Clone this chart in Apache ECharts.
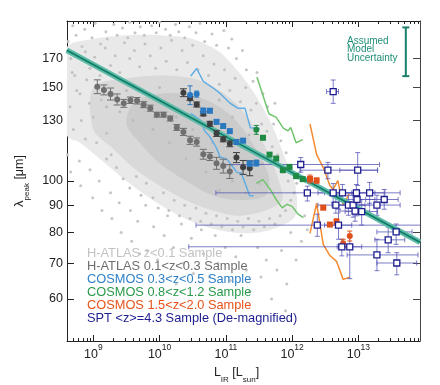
<!DOCTYPE html>
<html><head><meta charset="utf-8">
<script src="https://cdn.jsdelivr.net/npm/echarts@6/dist/echarts.min.js"></script>
<style>html,body{margin:0;padding:0;background:#fff}#c{width:440px;height:385px}</style>
</head><body><div id="c"></div>
<script>
const L = Math.log10;

// ---- axes (x = log10 L_IR [L_sun], y = lambda_peak [um], log) ----
const xRange = [8.603, 13.93];
const yRange = [50, 200];
const xMajorExp = [9, 10, 11, 12, 13];
const xMinorMult = [2, 3, 4, 5, 6, 7, 8, 9];
const xDecades = [8, 9, 10, 11, 12, 13];
const yTickLabels = [60, 70, 80, 90, 100, 130, 150, 170];

// ---- H-ATLAS z<0.1 individual galaxies (cloud: density zones + visible dots) ----
const cloudMidLogL  = [8.60,9.0,9.5,10.0,10.5,10.9,11.2,11.45,11.7,11.9,12.05,12.05,11.8,11.5,11.1,10.7,10.3,9.9,9.5,9.1,8.8,8.60];
const cloudMidLam   = [178,185,188,188,185,175,160,145,127,110,98,86,82,80,80,82,86,92,100,110,118,122];
const cloudCoreLogL = [9.0,9.5,10.0,10.5,10.9,11.2,11.45,11.65,11.8,11.85,11.6,11.2,10.8,10.4,10.0,9.6,9.3,9.0];
const cloudCoreLam  = [150,156,158,156,148,138,125,112,100,92,88,86,88,92,98,106,115,125];
const cloudInnerLogL = [9.6,10.0,10.5,10.9,11.2,11.45,11.65,11.6,11.2,10.8,10.4,10.0,9.7,9.5];
const cloudInnerLam  = [140,146,145,138,128,115,102,94,92,94,100,108,118,128];
const fringeDots = [
[8.62,183],[8.69,196],[8.74,188],[8.83,179],[8.87,193],[8.98,186],[9.03,198],[9.11,181],[9.19,191],[9.21,185],[9.31,197],[9.36,188],[9.44,194],[9.52,186],[9.55,199],[9.63,190],[9.71,195],[9.77,188],[9.88,196],[9.95,190],[10.0,199],[10.09,193],[10.16,188],[10.24,197],[10.29,191],[10.38,186],[10.45,195],[10.55,190],[10.61,198],[10.68,183],[10.79,189],[10.86,180],[10.97,192],[11.04,178],[11.09,185],[11.16,170],[11.25,176],[11.31,162],[11.41,154],[11.47,160],[11.56,146],[11.63,138],[11.72,128],[11.74,140],[11.83,119],[11.91,113],[11.99,106],[12.07,99],[12.13,108],[12.2,94],
[8.61,112],[8.66,104],[8.79,109],[8.81,98],[8.95,105],[8.99,93],[9.09,100],[9.13,88],[9.26,95],[9.28,85],[9.39,91],[9.42,80],[9.56,88],[9.58,77],[9.67,84],[9.79,90],[9.81,74],[9.91,82],[9.97,71],[10.07,79],[10.12,86],[10.21,75],[10.33,83],[10.36,70],[10.48,78],[10.51,67],[10.63,81],[10.66,73],[10.75,66],[10.84,79],[10.88,70],[10.99,75],[11.07,65],[11.15,72],[11.23,79],[11.31,68],[11.36,62],[11.48,75],[11.53,66],[11.61,71],[11.69,60],[11.77,68],[11.84,74],[11.92,64],[11.98,80],[12.06,71],[12.14,77],[12.19,86],[12.23,81],[10.25,64],[9.7,73],[11.9,57]
];
const midDots = [
[8.66,170],[8.72,158],[8.8,146],[8.88,175],[8.95,163],[9.02,171],[9.1,158],[9.18,178],[9.26,165],[9.33,172],[9.4,160],[9.47,182],[9.55,170],[9.62,176],[9.7,164],[9.78,181],[9.86,172],[9.94,163],[10.02,178],[10.1,168],[10.18,184],[10.26,162],[10.34,176],[10.42,167],[10.5,180],[10.58,162],[10.66,172],[10.74,158],[10.82,166],[10.9,152],[10.98,162],[11.06,148],[11.14,156],[11.22,141],[11.3,150],[11.38,136],[11.46,140],[11.54,128],[11.62,124],[11.7,116],[11.78,112],[11.86,104],[11.94,100],
[8.65,138],[8.7,125],[8.75,148],[8.82,130],[8.88,120],[8.94,140],[9.0,132],[9.05,118],[9.12,142],[9.2,123],[9.27,112],[8.9,155],[8.68,160],
[9.2,110],[9.35,106],[9.45,101],[9.55,97],[9.65,102],[9.72,94],[9.8,99],[9.9,93],[9.98,89],[10.06,95],[10.14,88],[10.22,92],[10.3,86],[10.38,90],[10.46,85],[10.55,89],[10.62,84],[10.7,87],[10.78,83],[10.86,86],[10.94,82],[11.02,85],[11.1,81],[11.18,84],[11.26,82],[11.34,85],[11.42,81],[11.5,84],[11.58,82],[11.66,85],[11.74,83],[11.82,86],[11.9,88],[11.98,92],[12.03,95]
];
const coreDots = [
[9.6,130],[9.75,138],[9.9,125],[10.05,140],[10.15,118],[10.25,132],[10.4,110],[10.5,125],[10.6,138],[10.7,104],[10.8,118],[10.9,96],[11.0,110],[11.1,100],[11.2,120],[11.3,95],[11.4,106],[11.5,99],[9.4,135],[9.3,145],[10.0,150],[10.35,148],[9.2,138],[9.5,148],[10.9,142],[11.1,132],[11.35,122],[11.55,108]
];

// ---- H-ATLAS binned medians ----
const hatlasLowLogL = [9.06,9.16,9.26,9.36,9.46,9.56,9.66,9.76,9.86,9.96,10.06,10.16,10.26,10.36,10.46,10.56,10.66,10.76,10.86,10.96,11.06];
const hatlasLowLam  = [150.5,148.4,145.8,142.4,140.0,141.9,141.6,139.2,137.1,133.3,133.3,131.1,126.1,123.7,119.3,118.4,112.3,111.2,108.0,106.7,104.2];
const hatlasLowErr  = [4.5,3.2,3.8,3.4,2.4,2.0,2.0,1.8,1.8,1.4,1.4,1.4,1.6,1.9,2.1,2.1,2.4,1.9,2.8,3.2,3.1];
const hatlasMidLogL = [10.36,10.46,10.56,10.66,10.76,10.86,10.96,11.06,11.16,11.26,11.36];
const hatlasMidLam  = [146.6,143.0,139.3,133.8,128.1,122.9,119.8,117.5,110.7,106.1,105.7];
const hatlasMidErr  = [2.5,1.2,1.5,1.2,1.4,1.6,1.3,1.5,2.4,3.2,3.4];

// ---- COSMOS ----
const blueLogL = [10.46,10.56,10.66,10.76,10.86,10.96,11.06,11.16,11.26,11.36,11.46];
const blueLam  = [145.1,145.7,135.6,135.6,129.2,126.9,124.1,118.4,119.1,107.7,108.1];
const blueErr  = [5.9,1.9,1.5,1.2,1.1,1.1,1.1,1.0,1.0,1.4,1.4];
const blueUpLogL = [10.47,10.56,10.66,10.81,10.93,11.06,11.18,11.29,11.37,11.51];
const blueUpLam  = [157.6,162.8,153.9,149.6,145.5,140.2,137.1,137.0,125.9,125.6];
const blueLoLogL = [10.47,10.61,10.68,10.76,10.86,10.91,11.02,11.08,11.17,11.23,11.27,11.32,11.36,11.42];
const blueLoLam  = [134.1,130.3,124.3,121.1,115.3,111.1,109.7,107.4,103.7,103.6,100.6,96.8,93.8,93.8];

const greenLogL = [11.46,11.56,11.66,11.76,11.86,11.96,12.06,12.16];
const greenLam  = [124.8,120.6,112.1,110.2,104.8,106.3,102.1,100.8];
const greenErr  = [2.4,1.0,1.0,0.9,0.9,0.9,0.9,0.9];
const greenUpLogL = [11.47,11.65,11.76,11.87,11.94,11.98,12.06,12.16];
const greenUpLam  = [156.9,133.8,131.7,125.6,124.3,126.1,118.0,119.6];
const greenLoLogL = [11.46,11.56,11.67,11.76,11.85,11.92,12.00,12.09,12.17];
const greenLoLam  = [99.1,100.6,96.4,92.3,89.0,90.4,89.6,86.6,85.3];

const orangeLogL = [12.27,12.37,12.47,12.57,12.67,12.77,12.87];
const orangeLam  = [100.9,100.2,89.1,82.8,83.8,76.4,78.8];
const orangeErr  = [1.7,1.1,0.8,0.7,1.1,1.3,1.7];
const orangeUpLogL = [12.27,12.37,12.47,12.57,12.62,12.69,12.77,12.86];
const orangeUpLam  = [128.1,112.1,106.0,98.1,96.4,100.2,90.0,94.6];
const orangeLoLogL = [12.27,12.37,12.47,12.57,12.67,12.77,12.87];
const orangeLoLam  = [79.7,90.8,76.0,72.4,70.6,65.3,65.9];

// ---- SPT (de-magnified) ----
const sptLogL   = [12.62,12.13,12.54,12.99,12.23,12.62,12.76,12.97,13.17,13.39,12.66,12.85,12.92,12.98,13.05,13.28,12.95,12.38,12.70,13.57,13.45,12.75,12.87,13.28,13.58];
const sptLam    = [147.3,107.4,104.8,104.8,95.0,95.0,95.0,95.0,95.0,92.3,90.1,90.1,90.1,92.3,87.6,90.1,87.8,82.6,82.6,80.2,77.5,75.2,75.2,72.6,70.1];
const sptLogLLo = [12.52,10.95,12.12,12.72,10.85,12.39,12.49,12.72,12.90,13.11,12.39,12.60,12.68,12.72,12.80,12.95,12.72,10.55,12.49,13.28,13.25,10.44,12.68,12.83,13.28];
const sptLogLHi = [12.70,13.32,13.29,13.29,13.63,12.95,13.02,13.25,13.40,13.60,12.92,13.10,13.17,13.25,13.29,13.63,13.17,14.0,12.90,13.81,13.70,14.0,13.05,13.90,13.88];
const sptLamLo  = [140.0,103.9,101.0,98.1,91.7,91.2,91.5,86.0,90.8,88.5,87.0,86.2,85.5,87.8,82.6,86.2,84.0,78.7,77.7,76.0,73.3,72.3,65.5,67.8,66.6];
const sptLamHi  = [154.9,110.7,108.4,113.1,97.8,98.9,98.5,98.5,99.4,96.4,93.1,94.0,94.0,96.4,92.3,94.0,91.2,86.6,88.5,83.0,81.9,77.7,79.1,77.7,73.3];

// ---- model ----
const modelLogL = [8.6, 10, 11, 12, 13, 13.93];
const modelLam  = [176.2, 141.7, 121.2, 103.7, 88.7, 76.7];
const uncLogL = [13.716], uncLam = [175], uncLo = [157.5], uncHi = [194.5];

const legendTexts = [
  ['H-ATLAS z<0.1 Sample', '#c2c2c2'],
  ['H-ATLAS 0.1<z<0.3 Sample', '#6f6f6f'],
  ['COSMOS 0.3<z<0.5 Sample', '#2f80c8'],
  ['COSMOS 0.8<z<1.2 Sample', '#2a9a4c'],
  ['COSMOS 1.5<z<2.0 Sample', '#e6531c'],
  ['SPT <z>=4.3 Sample (De-magnified)', '#1d1d8f']
];
const uncText = ['Assumed', 'Model', 'Uncertainty'];

// ================= build =================
const FONT = '"Liberation Sans", Arial, Helvetica, sans-serif';
const xMinor = [];
xDecades.forEach(d => xMinorMult.forEach(m => { const v = d + L(m); if (v > xRange[0] && v < xRange[1]) xMinor.push(v); }));
const yTicks = yTickLabels.map(L);
const pts = (xs, ys) => xs.map((x, i) => [x, L(ys[i])]);

function polySeries(xs, ys, color, z) {
  return { type: 'custom', silent: true, clip: true, z,
    data: [[xs[0], L(ys[0])]],
    renderItem: (p, api) => ({ type: 'polygon',
      shape: { points: xs.map((x, i) => api.coord([x, L(ys[i])])), smooth: 0.3 },
      style: { fill: color } }) };
}
function dotSeries(list, color, size, z) {
  return { type: 'scatter', data: list.map(d => [d[0], L(d[1])]), symbol: 'circle', symbolSize: size, silent: true, z,
    itemStyle: { color, opacity: 1 } };
}
function lineSeries(xs, ys, color, width, z) {
  return { type: 'line', data: pts(xs, ys), showSymbol: false, symbol: 'none', silent: true, z,
    lineStyle: { color, width }, clip: true };
}
function vErr(xs, ys, lo, hi, color, cap, width, z) {
  return { type: 'custom', silent: true, clip: true, z,
    data: xs.map((x, i) => [x, L(ys[i]), L(lo[i]), L(hi[i])]),
    renderItem: (p, api) => {
      const x = api.value(0);
      const a = api.coord([x, api.value(2)]), b = api.coord([x, api.value(3)]);
      const h = cap / 2, st = { stroke: color, lineWidth: width };
      return { type: 'group', children: [
        { type: 'line', shape: { x1: a[0], y1: a[1], x2: b[0], y2: b[1] }, style: st },
        { type: 'line', shape: { x1: a[0] - h, y1: a[1], x2: a[0] + h, y2: a[1] }, style: st },
        { type: 'line', shape: { x1: b[0] - h, y1: b[1], x2: b[0] + h, y2: b[1] }, style: st } ] };
    } };
}
function symErr(xs, ys, es, color, cap, width, z) {
  return vErr(xs, ys, ys.map((y, i) => y - es[i]), ys.map((y, i) => y + es[i]), color, cap, width, z);
}
function xyErr(xs, ys, xlo, xhi, ylo, yhi, color, cap, z) {
  return { type: 'custom', silent: true, clip: true, z,
    data: xs.map((x, i) => [x, L(ys[i]), xlo[i], xhi[i], L(ylo[i]), L(yhi[i])]),
    renderItem: (p, api) => {
      const x = api.value(0), y = api.value(1);
      const l = api.coord([api.value(2), y]), r = api.coord([api.value(3), y]);
      const b = api.coord([x, api.value(4)]), t = api.coord([x, api.value(5)]);
      const h = cap / 2, st = { stroke: color, lineWidth: 1 };
      return { type: 'group', children: [
        { type: 'line', shape: { x1: l[0], y1: l[1], x2: r[0], y2: r[1] }, style: st },
        { type: 'line', shape: { x1: l[0], y1: l[1] - h, x2: l[0], y2: l[1] + h }, style: st },
        { type: 'line', shape: { x1: r[0], y1: r[1] - h, x2: r[0], y2: r[1] + h }, style: st },
        { type: 'line', shape: { x1: b[0], y1: b[1], x2: t[0], y2: t[1] }, style: st },
        { type: 'line', shape: { x1: b[0] - h, y1: b[1], x2: b[0] + h, y2: b[1] }, style: st },
        { type: 'line', shape: { x1: t[0] - h, y1: t[1], x2: t[0] + h, y2: t[1] }, style: st } ] };
    } };
}
function scat(xs, ys, color, symbol, size, z, border) {
  return { type: 'scatter', data: pts(xs, ys), symbol, symbolSize: size, silent: true, z,
    itemStyle: border ? { color: '#fff', borderColor: color, borderWidth: 1.3, opacity: 1 } : { color, opacity: 1 } };
}
function scatMixed(xs, ys, color, symbols, size, z) {
  return { type: 'scatter', silent: true, z, symbolSize: size, itemStyle: { color, opacity: 1 },
    data: xs.map((x, i) => ({ value: [x, L(ys[i])], symbol: symbols[i] })) };
}

const axisColor = '#222';
const baseX = { type: 'value', min: xRange[0], max: xRange[1], splitLine: { show: false } };
const baseY = { type: 'value', min: L(yRange[0]), max: L(yRange[1]), splitLine: { show: false } };
const xLabRich = { b: { fontSize: 12.5, fontFamily: FONT, color: axisColor, lineHeight: 18, verticalAlign: 'bottom' },
                   s: { fontSize: 8.5, fontFamily: FONT, color: axisColor, verticalAlign: 'top' } };

const option = {
  animation: false,
  backgroundColor: '#fff',
  grid: { left: 67, right: 20, top: 21, bottom: 44, containLabel: false, outerBoundsMode: 'none' },
  xAxis: [
    { ...baseX, position: 'bottom',
      axisLine: { show: true, lineStyle: { color: axisColor, width: 1 } },
      axisTick: { show: true, inside: true, length: 6, customValues: xMajorExp, lineStyle: { color: axisColor } },
      axisLabel: { show: true, customValues: xMajorExp, margin: 2,
        formatter: v => '{b|10}{s|' + Math.round(v) + '}', rich: xLabRich },
      name: '{a|L}{s|IR}{a| [L}{s|sun}{a|]}', nameLocation: 'middle', nameGap: 20,
      nameTextStyle: { padding: [0, 14, 0, 0], rich: {
        a: { fontSize: 12.5, fontFamily: FONT, color: axisColor, lineHeight: 18, verticalAlign: 'top' },
        s: { fontSize: 8, fontFamily: FONT, color: axisColor, verticalAlign: 'bottom' } } } },
    { ...baseX, position: 'bottom', axisLine: { show: false }, axisLabel: { show: false },
      axisTick: { show: true, inside: true, length: 3, customValues: xMinor, lineStyle: { color: axisColor } } },
    { ...baseX, position: 'top', axisLine: { show: true, lineStyle: { color: axisColor, width: 1 } }, axisLabel: { show: false },
      axisTick: { show: true, inside: true, length: 6, customValues: xMajorExp, lineStyle: { color: axisColor } } },
    { ...baseX, position: 'top', axisLine: { show: false }, axisLabel: { show: false },
      axisTick: { show: true, inside: true, length: 3, customValues: xMinor, lineStyle: { color: axisColor } } }
  ],
  yAxis: [
    { ...baseY, position: 'left',
      axisLine: { show: true, lineStyle: { color: axisColor, width: 1 } },
      axisTick: { show: true, inside: true, length: 7, customValues: yTicks, lineStyle: { color: axisColor } },
      axisLabel: { show: true, customValues: yTicks, margin: 4, fontSize: 12.5, fontFamily: FONT, color: axisColor,
        formatter: v => String(Math.round(Math.pow(10, v))) },
      name: '{l|λ}{s|peak}{a| [μm]}', nameLocation: 'middle', nameGap: 18, nameRotate: 90,
      nameTextStyle: { rich: {
        l: { fontSize: 13, fontFamily: FONT, color: axisColor, lineHeight: 18, verticalAlign: 'top' },
        a: { fontSize: 12.5, fontFamily: FONT, color: axisColor, lineHeight: 18, verticalAlign: 'top' },
        s: { fontSize: 8, fontFamily: FONT, color: axisColor, verticalAlign: 'bottom' } } } },
    { ...baseY, position: 'right',
      axisLine: { show: true, lineStyle: { color: '#444', width: 1 } }, axisLabel: { show: false },
      axisTick: { show: true, inside: true, length: 7, customValues: yTicks, lineStyle: { color: '#444' } } }
  ],
  series: [
    polySeries(cloudMidLogL, cloudMidLam, '#e9e9e9', 1),
    polySeries(cloudCoreLogL, cloudCoreLam, '#d9d9d9', 2),
    polySeries(cloudInnerLogL, cloudInnerLam, '#cbcbcb', 2),
    dotSeries(fringeDots, '#c6c6c6', 3, 3),
    dotSeries(midDots, '#c2c2c2', 3, 3),
    dotSeries(coreDots, '#bbbbbb', 3, 3),
    lineSeries(blueUpLogL, blueUpLam, '#62aee4', 1.5, 4),
    lineSeries(blueLoLogL, blueLoLam, '#62aee4', 1.5, 4),
    lineSeries(greenUpLogL, greenUpLam, '#72c46e', 1.5, 4),
    lineSeries(greenLoLogL, greenLoLam, '#72c46e', 1.5, 4),
    lineSeries(orangeUpLogL, orangeUpLam, '#f58a30', 1.5, 4),
    lineSeries(orangeLoLogL, orangeLoLam, '#f58a30', 1.5, 4),
    xyErr(sptLogL, sptLam, sptLogLLo, sptLogLHi, sptLamLo, sptLamHi, 'rgba(80,80,180,0.75)', 5, 5),
    lineSeries(modelLogL, modelLam, '#5dbba8', 5.5, 6),
    lineSeries(modelLogL, modelLam, '#107a66', 1.6, 7),
    symErr(hatlasLowLogL, hatlasLowLam, hatlasLowErr, '#6f6f6f', 7, 1, 8),
    symErr(hatlasMidLogL, hatlasMidLam, hatlasMidErr, '#3f3f3f', 7, 1, 8),
    symErr(blueLogL, blueLam, blueErr, '#2a78c0', 5, 1, 8),
    symErr(greenLogL, greenLam, greenErr, '#1f8a43', 5, 1, 8),
    symErr(orangeLogL, orangeLam, orangeErr, '#e0501c', 5, 1, 8),
    scat(hatlasLowLogL, hatlasLowLam, '#6f6f6f', 'circle', 6, 9),
    scat(hatlasMidLogL, hatlasMidLam, '#3f3f3f', 'circle', 6, 9),
    scatMixed(blueLogL, blueLam, '#2a78c0', ['circle','circle','rect','rect','rect','rect','rect','rect','rect','rect','rect'], 6, 9),
    scatMixed(greenLogL, greenLam, '#1f8a43', ['circle','rect','rect','rect','rect','rect','rect','rect'], 6, 9),
    scatMixed(orangeLogL, orangeLam, '#e0501c', ['rect','rect','rect','rect','rect','circle','circle'], 6, 9),
    scat(sptLogL, sptLam, '#1c1c8f', 'rect', 6, 10, true),
    vErr(uncLogL, uncLam, uncLo, uncHi, '#1b7f6c', 7, 2, 10)
  ],
  graphic: [
    ...legendTexts.map((t, i) => ({ type: 'text', left: 87, top: 247 + i * 13, z: 20, silent: true,
      style: { text: t[0], fill: t[1], fontSize: 12.8, fontFamily: FONT } })),
    ...uncText.map((t, i) => ({ type: 'text', left: 347, top: 36 + i * 8.4, z: 20, silent: true,
      style: { text: t, fill: '#1f8f78', fontSize: 10, fontFamily: FONT } }))
  ]
};
echarts.init(document.getElementById('c'), null, { renderer: 'canvas' }).setOption(option);
</script></body></html>
